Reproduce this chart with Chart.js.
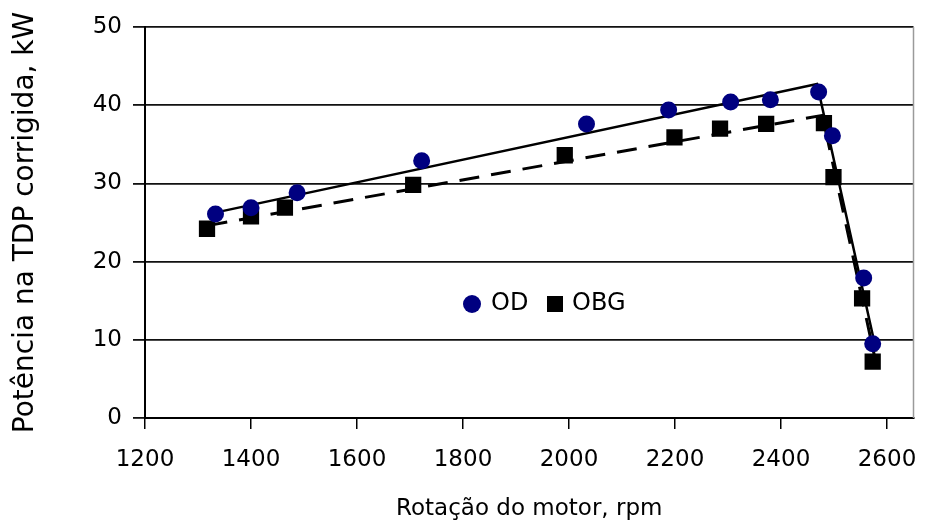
<!DOCTYPE html>
<html><head><meta charset="utf-8">
<script src="https://cdn.jsdelivr.net/npm/chart.js@4.4.0/dist/chart.umd.min.js"></script>
<style>html,body{margin:0;padding:0;background:#fff}#wrap{width:925px;height:532px;position:relative}</style>
</head><body><div id="wrap"><canvas id="c" width="925" height="532"></canvas></div>
<script>
const odRpm = [1333, 1400, 1487, 1722, 2033, 2188, 2305, 2380, 2471, 2497, 2556, 2573];
const odPower = [26.1, 26.9, 28.8, 32.9, 37.6, 39.4, 40.4, 40.7, 41.7, 36.1, 17.9, 9.5];
const obgRpm = [1317, 1400, 1464, 1706, 1992, 2199, 2285, 2372, 2481, 2499, 2553, 2573];
const obgPower = [24.2, 25.8, 26.9, 29.8, 33.6, 35.9, 37.0, 37.6, 37.7, 30.8, 15.3, 7.2];
const odFitRpm = [1328, 2468, 2580];
const odFitPower = [26.2, 42.7, 8.5];
const obgFitRpm = [1318, 2478, 2580];
const obgFitPower = [24.6, 38.7, 6.8];
const xTicks = [1200, 1400, 1600, 1800, 2000, 2200, 2400, 2600];
const yTicks = [0, 10, 20, 30, 40, 50];
const seriesNames = ['OD', 'OBG'];
const xTitle = 'Rotação do motor, rpm';
const yTitle = 'Potência na TDP corrigida, kW';

const pts = (xs, ys) => xs.map((x, i) => ({x: x, y: ys[i]}));
const FONT = '"DejaVu Sans", Verdana, sans-serif';

const extras = {
  id: 'extras',
  afterDatasetsDraw(chart) {
    const ctx = chart.ctx, a = chart.chartArea;
    ctx.save();
    ctx.strokeStyle = '#9a9a9a';
    ctx.lineWidth = 1.5;
    ctx.beginPath();
    ctx.moveTo(a.right, a.top);
    ctx.lineTo(a.right, a.bottom);
    ctx.stroke();
    // legend
    const ly = 304;
    ctx.fillStyle = '#000080';
    ctx.beginPath();
    ctx.arc(472, ly, 9, 0, Math.PI * 2);
    ctx.fill();
    ctx.fillStyle = '#000';
    ctx.fillRect(547, ly - 8, 16, 16);
    ctx.font = '24px ' + FONT;
    ctx.textBaseline = 'middle';
    ctx.textAlign = 'left';
    ctx.fillText(seriesNames[0], 491, ly);
    ctx.fillText(seriesNames[1], 572, ly);
    ctx.restore();
  }
};

new Chart(document.getElementById('c'), {
  type: 'scatter',
  data: {
    datasets: [
      {label: 'OD fit', data: pts(odFitRpm, odFitPower), showLine: true, borderColor: '#000', borderWidth: 2.5, pointRadius: 0, order: 3},
      {label: 'OBG fit', data: pts(obgFitRpm, obgFitPower), showLine: true, borderColor: '#000', borderWidth: 3, borderDash: [20, 12], pointRadius: 0, order: 4},
      {label: seriesNames[0], data: pts(odRpm, odPower), pointStyle: 'circle', pointRadius: 8.5, backgroundColor: '#000080', borderColor: '#000080', borderWidth: 0, order: 1},
      {label: seriesNames[1], data: pts(obgRpm, obgPower), pointStyle: 'rect', pointRadius: 11.5, backgroundColor: '#000', borderColor: '#000', borderWidth: 0, order: 2}
    ]
  },
  options: {
    responsive: false,
    animation: false,
    events: [],
    layout: {padding: {top: 27, right: 8, left: 0, bottom: 0}},
    plugins: {legend: {display: false}, tooltip: {enabled: false}},
    scales: {
      x: {
        type: 'linear', min: 1200, max: 2650,
        afterBuildTicks: (ax) => { ax.ticks = xTicks.map(v => ({value: v})); },
        afterFit: (ax) => { ax.height = 114; ax.paddingLeft = 0; ax.paddingRight = 0; },
        grid: {drawOnChartArea: false, drawTicks: true, tickLength: 11, color: '#000', lineWidth: 1.5},
        border: {display: true, color: '#000', width: 2},
        ticks: {color: '#000', font: {family: FONT, size: 23}, padding: 17, maxRotation: 0, callback: (v) => String(v)},
        title: {display: true, text: xTitle, color: '#000', font: {family: FONT, size: 23}, padding: {top: 0, bottom: 9}}
      },
      y: {
        type: 'linear', min: 0, max: 50,
        afterBuildTicks: (ax) => { ax.ticks = yTicks.map(v => ({value: v})); },
        afterFit: (ax) => { ax.width = 145; ax.paddingTop = 0; ax.paddingBottom = 0; },
        grid: {drawOnChartArea: true, drawTicks: true, tickLength: 12, color: '#111', lineWidth: 1.8},
        border: {display: true, color: '#000', width: 2},
        ticks: {color: '#000', font: {family: FONT, size: 23}, padding: 11, callback: (v) => String(v)},
        title: {display: true, text: yTitle, color: '#000', font: {family: FONT, size: 28}, padding: {top: 9, bottom: 0}}
      }
    }
  },
  plugins: [extras]
});
</script></body></html>
